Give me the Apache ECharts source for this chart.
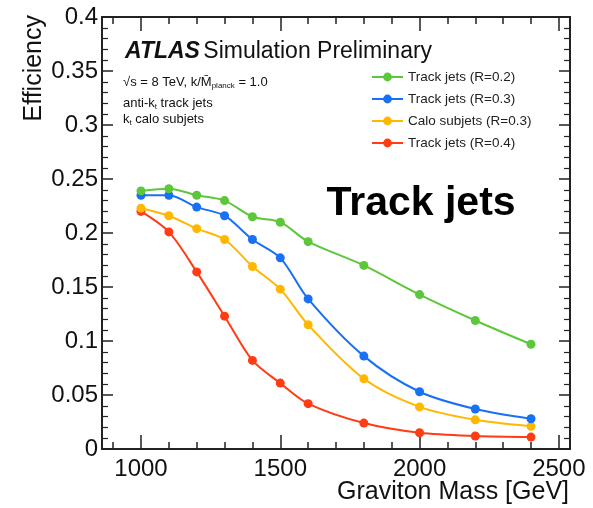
<!DOCTYPE html>
<html>
<head>
<meta charset="utf-8">
<script src="https://cdn.jsdelivr.net/npm/echarts@6/dist/echarts.min.js"></script>
<style>html,body{margin:0;padding:0;background:#fff;}#c{width:593px;height:508px;}</style>
</head>
<body>
<div id="c"></div>
<script>
const masses = [1000, 1100, 1200, 1300, 1400, 1500, 1600, 1800, 2000, 2200, 2400];
const trackR02 = [0.239, 0.241, 0.235, 0.230, 0.215, 0.210, 0.192, 0.170, 0.143, 0.119, 0.097];
const trackR03 = [0.235, 0.235, 0.224, 0.216, 0.194, 0.177, 0.139, 0.086, 0.053, 0.037, 0.028];
const caloR03 = [0.223, 0.216, 0.204, 0.194, 0.169, 0.148, 0.115, 0.065, 0.039, 0.027, 0.021];
const trackR04 = [0.220, 0.201, 0.164, 0.123, 0.082, 0.061, 0.042, 0.024, 0.015, 0.012, 0.011];
const seriesNames = ['Track jets (R=0.2)', 'Track jets (R=0.3)', 'Calo subjets (R=0.3)', 'Track jets (R=0.4)'];
const xMajorTicks = [1000, 1500, 2000, 2500];
const xMinorTicks = [900, 1000, 1100, 1200, 1300, 1400, 1500, 1600, 1700, 1800, 1900, 2000, 2100, 2200, 2300, 2400, 2500];
const xTitle = 'Graviton Mass [GeV]';
const yTitle = 'Efficiency';

const colors = ['#5cc73a', '#1870f5', '#ffb700', '#ff3c14'];
const allData = [trackR02, trackR03, caloR03, trackR04];
const FONT = 'Liberation Sans, Arial, Helvetica, sans-serif';

const chart = echarts.init(document.getElementById('c'));
const axisLine = { show: true, lineStyle: { color: '#222', width: 2 } };

function xAxisDef(pos, ticks, len, showLabel) {
  return {
    type: 'value', position: pos, min: 860, max: 2540,
    axisLine: axisLine,
    axisTick: { show: true, inside: true, length: len, customValues: ticks, lineStyle: { color: '#222', width: 1.5 } },
    axisLabel: showLabel ? { show: true, customValues: xMajorTicks, fontSize: 24, color: '#111', fontFamily: FONT, margin: 8,
      formatter: v => String(v) } : { show: false },
    splitLine: { show: false }
  };
}
function yAxisDef(pos, showLabel) {
  return {
    type: 'value', position: pos, min: 0, max: 0.4, interval: 0.05,
    axisLine: axisLine,
    axisTick: { show: true, inside: true, length: 11, lineStyle: { color: '#222', width: 1.5 } },
    minorTick: { show: true, splitNumber: 5, length: 6, lineStyle: { color: '#222', width: 1.2 } },
    axisLabel: showLabel ? { show: true, fontSize: 24, color: '#111', fontFamily: FONT, margin: 4 } : { show: false },
    splitLine: { show: false }, minorSplitLine: { show: false }
  };
}

const series = allData.map((d, i) => ({
  name: seriesNames[i], type: 'line', xAxisIndex: 0, yAxisIndex: 0,
  data: masses.map((m, j) => [m, d[j]]),
  smooth: 0.3, symbol: 'circle', symbolSize: 9,
  lineStyle: { color: colors[i], width: 2 },
  itemStyle: { color: colors[i] },
  z: 10 - i
}));

const sub = { n: { font: '13px ' + FONT, fill: '#111', lineHeight: 16, verticalAlign: 'middle' },
              s: { font: '8px ' + FONT, fill: '#111', lineHeight: 16, verticalAlign: 'bottom' } };

chart.setOption({
  animation: false,
  backgroundColor: '#fff',
  grid: { left: 102, top: 17, right: 23, bottom: 59, show: false, containLabel: false, outerBoundsMode: 'none' },
  xAxis: [
    xAxisDef('bottom', xMajorTicks, 14, true),
    xAxisDef('bottom', xMinorTicks, 7, false),
    xAxisDef('top', xMajorTicks, 14, false),
    xAxisDef('top', xMinorTicks, 7, false)
  ],
  yAxis: [yAxisDef('left', true), yAxisDef('right', false)],
  legend: {
    data: seriesNames, orient: 'vertical', left: 366, top: 64,
    itemWidth: 31, itemHeight: 11, itemGap: 6,
    textStyle: { fontSize: 13.5, lineHeight: 16, color: '#222', fontFamily: FONT }
  },
  series: series,
  graphic: [
    { type: 'text', x: 569, y: 492,
      style: { text: xTitle, font: '25px ' + FONT, fill: '#111', align: 'right', verticalAlign: 'middle' } },
    { type: 'text', x: 34, y: 15, rotation: Math.PI / 2,
      style: { text: yTitle, font: '25px ' + FONT, fill: '#111', align: 'right', verticalAlign: 'middle' } },
    { type: 'text', x: 125, y: 52,
      style: { text: '{a|ATLAS} {b|Simulation Preliminary}', verticalAlign: 'middle',
        rich: { a: { font: 'italic bold 23px ' + FONT, fill: '#111' }, b: { font: '23px ' + FONT, fill: '#111' } } } },
    { type: 'text', x: 123, y: 82,
      style: { text: '{n|√s = 8 TeV, k/M̄}{s|planck}{n| = 1.0}', verticalAlign: 'middle', rich: sub } },
    { type: 'text', x: 123, y: 103,
      style: { text: '{n|anti-k}{s|t}{n| track jets}', verticalAlign: 'middle', rich: sub } },
    { type: 'text', x: 123, y: 119,
      style: { text: '{n|k}{s|t}{n| calo subjets}', verticalAlign: 'middle', rich: sub } },
    { type: 'text', x: 421, y: 204,
      style: { text: 'Track jets', font: 'bold 41px ' + FONT, fill: '#000', align: 'center', verticalAlign: 'middle' } }
  ]
});
</script>
</body>
</html>
